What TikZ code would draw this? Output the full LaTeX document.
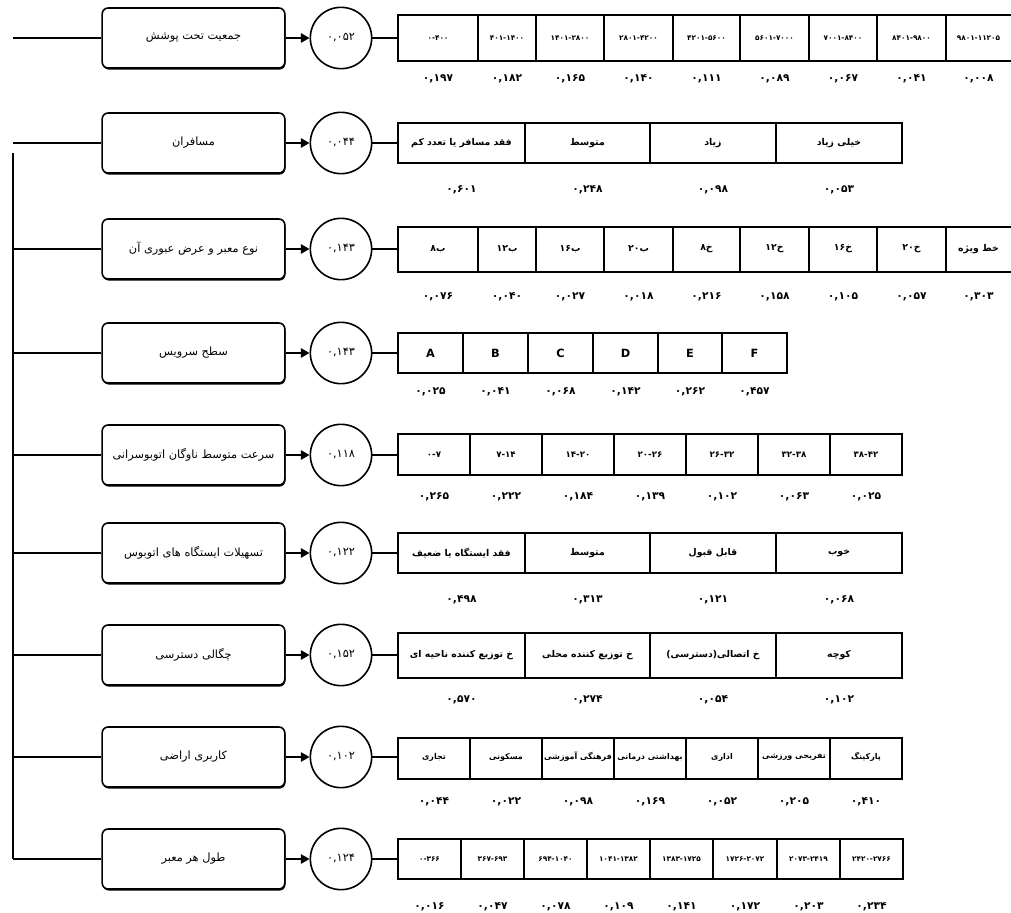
\documentclass[tikz,border=0pt]{standalone}
\usepackage{fontspec}
\setmainfont{DejaVu Sans}
\newfontfamily\fa[Script=Arabic]{DejaVu Sans}
\TeXXeTstate=1
\usetikzlibrary{arrows.meta, shadows}

\tikzset{
  critbox/.style={draw, line width=1.2pt, rounded corners=4.5pt, fill=white,
    minimum width=137pt, minimum height=45pt,
    drop shadow={shadow xshift=.5pt, shadow yshift=-1.2pt, fill=black, opacity=1},
    font=\fa\fontsize{8.5}{10}\selectfont,
    execute at begin node=\beginR, execute at end node=\endR},
  wcircle/.style={draw, circle, line width=1.2pt, minimum size=46pt, inner sep=0pt,
    font=\fa\fontsize{8.5}{10}\selectfont},
  link/.style={line width=1.2pt},
  feed/.style={line width=1.2pt, -{Triangle[length=6.5pt,width=7pt]}},
  cellbox/.style={draw, line width=1.2pt},
  celltxt/.style={inner sep=0pt, font=\fa\bfseries\fontsize{7}{8}\selectfont,
    execute at begin node=\beginR, execute at end node=\endR},
  valtxt/.style={inner sep=0pt, font=\fa\bfseries\fontsize{8}{9}\selectfont},
}

\begin{document}
\begin{tikzpicture}[x=0.75pt, y=-0.75pt]
  \useasboundingbox (0,0) rectangle (1011,913);

  % criteria, weights and links
  \foreach \r/\y/\lab/\w in {1/38/{جمعیت تحت پوشش}/{۰,۰۵۲}, 2/143/{مسافران}/{۰,۰۴۴},
      3/249/{نوع معبر و عرض عبوری آن}/{۰,۱۴۳}, 4/353/{سطح سرویس}/{۰,۱۴۳},
      5/455/{سرعت متوسط ناوگان اتوبوسرانی}/{۰,۱۱۸}, 6/553/{تسهیلات ایستگاه های اتوبوس}/{۰,۱۲۲},
      7/655/{چگالی دسترسی}/{۰,۱۵۲}, 8/757/{کاربری اراضی}/{۰,۱۰۲}, 9/859/{طول هر معبر}/{۰,۱۲۴}}{
    \coordinate (l\r) at (13,\y);
    \node[critbox] (b\r) at (193.5,\y) {\lab};
    \node[wcircle] (w\r) at (341,\y) {\w};
    \coordinate (t\r) at (398,\y);
    \draw[link] (l\r) -- (b\r);
    \draw[feed] (b\r) -- (w\r);
    \draw[link] (w\r) -- (t\r);
  }
  \coordinate (vtop) at (13,153);
  \draw[link] (vtop) -- (l9);

  % row 1
  \foreach \xa/\xb/\lab/\val [count=\k] in {398/478/{۰-۴۰۰}/{۰,۱۹۷}, 478/536/{۴۰۱-۱۴۰۰}/{۰,۱۸۲},
      536/604/{۱۴۰۱-۲۸۰۰}/{۰,۱۶۵}, 604/673/{۲۸۰۱-۴۲۰۰}/{۰,۱۴۰}, 673/740/{۴۲۰۱-۵۶۰۰}/{۰,۱۱۱},
      740/809/{۵۶۰۱-۷۰۰۰}/{۰,۰۸۹}, 809/877/{۷۰۰۱-۸۴۰۰}/{۰,۰۶۷}, 877/946/{۸۴۰۱-۹۸۰۰}/{۰,۰۴۱},
      946/1016/{۹۸۰۱-۱۱۲۰۵}/{۰,۰۰۸}}{
    \draw[cellbox] (\xa,15) rectangle (\xb,61);
    \node[celltxt, font=\fa\bfseries\fontsize{5.5}{7}\selectfont] (c1\k) at ({(min(\xb,1011)+\xa)/2},38) {\lab};
    \node[valtxt] (v1\k) at ({(min(\xb,1011)+\xa)/2},79) {\val};
  }

  % row 2
  \foreach \xa/\xb/\lab/\val [count=\k] in {398/525/{فقد مسافر یا تعدد کم}/{۰,۶۰۱}, 525/650/{متوسط}/{۰,۲۴۸},
      650/776/{زیاد}/{۰,۰۹۸}, 776/902/{خیلی زیاد}/{۰,۰۵۳}}{
    \draw[cellbox] (\xa,123) rectangle (\xb,163);
    \node[celltxt] (c2\k) at ({(\xa+\xb)/2},143) {\lab};
    \node[valtxt] (v2\k) at ({(\xa+\xb)/2},190) {\val};
  }

  % row 3
  \foreach \xa/\xb/\lab/\val [count=\k] in {398/478/{ب۸}/{۰,۰۷۶}, 478/536/{ب۱۲}/{۰,۰۴۰},
      536/604/{ب۱۶}/{۰,۰۲۷}, 604/673/{ب۲۰}/{۰,۰۱۸}, 673/740/{خ۸}/{۰,۲۱۶},
      740/809/{خ۱۲}/{۰,۱۵۸}, 809/877/{خ۱۶}/{۰,۱۰۵}, 877/946/{خ۲۰}/{۰,۰۵۷},
      946/1016/{خط ویژه}/{۰,۳۰۳}}{
    \draw[cellbox] (\xa,227) rectangle (\xb,272);
    \node[celltxt] (c3\k) at ({(min(\xb,1011)+\xa)/2},249) {\lab};
    \node[valtxt] (v3\k) at ({(min(\xb,1011)+\xa)/2},297) {\val};
  }

  % row 4
  \foreach \xa/\xb/\lab/\val [count=\k] in {398/463/A/{۰,۰۲۵}, 463/528/B/{۰,۰۴۱}, 528/593/C/{۰,۰۶۸},
      593/658/D/{۰,۱۴۲}, 658/722/E/{۰,۲۶۲}, 722/787/F/{۰,۴۵۷}}{
    \draw[cellbox] (\xa,333) rectangle (\xb,373);
    \node[celltxt, font=\bfseries\fontsize{8.5}{10}\selectfont] (c4\k) at ({(\xa+\xb)/2},353) {\lab};
    \node[valtxt] (v4\k) at ({(\xa+\xb)/2},392) {\val};
  }

  % row 5
  \foreach \xa/\xb/\lab/\val [count=\k] in {398/470/{۰-۷}/{۰,۲۶۵}, 470/542/{۷-۱۴}/{۰,۲۲۲},
      542/614/{۱۴-۲۰}/{۰,۱۸۴}, 614/686/{۲۰-۲۶}/{۰,۱۳۹}, 686/758/{۲۶-۳۲}/{۰,۱۰۲},
      758/830/{۳۲-۳۸}/{۰,۰۶۳}, 830/902/{۳۸-۴۲}/{۰,۰۲۵}}{
    \draw[cellbox] (\xa,434) rectangle (\xb,475);
    \node[celltxt, font=\fa\bfseries\fontsize{6.5}{8}\selectfont] (c5\k) at ({(\xa+\xb)/2},455) {\lab};
    \node[valtxt] (v5\k) at ({(\xa+\xb)/2},497) {\val};
  }

  % row 6
  \foreach \xa/\xb/\lab/\val [count=\k] in {398/525/{فقد ایستگاه یا ضعیف}/{۰,۴۹۸}, 525/650/{متوسط}/{۰,۳۱۳},
      650/776/{قابل قبول}/{۰,۱۲۱}, 776/902/{خوب}/{۰,۰۶۸}}{
    \draw[cellbox] (\xa,533) rectangle (\xb,573);
    \node[celltxt] (c6\k) at ({(\xa+\xb)/2},553) {\lab};
    \node[valtxt] (v6\k) at ({(\xa+\xb)/2},600) {\val};
  }

  % row 7
  \foreach \xa/\xb/\lab/\val [count=\k] in {398/525/{خ توزیع کننده ناحیه ای}/{۰,۵۷۰}, 525/650/{خ توزیع کننده محلی}/{۰,۲۷۴},
      650/776/{خ اتصالی(دسترسی)}/{۰,۰۵۴}, 776/902/{کوچه}/{۰,۱۰۲}}{
    \draw[cellbox] (\xa,633) rectangle (\xb,678);
    \node[celltxt] (c7\k) at ({(\xa+\xb)/2},655) {\lab};
    \node[valtxt] (v7\k) at ({(\xa+\xb)/2},700) {\val};
  }

  % row 8
  \foreach \xa/\xb/\lab/\val [count=\k] in {398/470/{تجاری}/{۰,۰۴۴}, 470/542/{مسکونی}/{۰,۰۲۲},
      542/614/{فرهنگی آموزشی}/{۰,۰۹۸}, 614/686/{بهداشتی درمانی}/{۰,۱۶۹}, 686/758/{اداری}/{۰,۰۵۲},
      758/830/{تفریحی ورزشی}/{۰,۲۰۵}, 830/902/{پارکینگ}/{۰,۴۱۰}}{
    \draw[cellbox] (\xa,738) rectangle (\xb,779);
    \node[celltxt, font=\fa\bfseries\fontsize{6}{7}\selectfont] (c8\k) at ({(\xa+\xb)/2},757) {\lab};
    \node[valtxt] (v8\k) at ({(\xa+\xb)/2},802) {\val};
  }

  % row 9
  \foreach \xa/\xb/\lab/\val [count=\k] in {398/461/{۰-۳۶۶}/{۰,۰۱۶}, 461/524/{۳۶۷-۶۹۳}/{۰,۰۴۷},
      524/587/{۶۹۴-۱۰۴۰}/{۰,۰۷۸}, 587/650/{۱۰۴۱-۱۳۸۲}/{۰,۱۰۹}, 650/713/{۱۳۸۳-۱۷۲۵}/{۰,۱۴۱},
      713/777/{۱۷۲۶-۲۰۷۲}/{۰,۱۷۲}, 777/840/{۲۰۷۳-۲۴۱۹}/{۰,۲۰۳}, 840/903/{۲۴۲۰-۲۷۶۶}/{۰,۲۳۴}}{
    \draw[cellbox] (\xa,839) rectangle (\xb,879);
    \node[celltxt, font=\fa\bfseries\fontsize{5.5}{7}\selectfont] (c9\k) at ({(\xa+\xb)/2},859) {\lab};
    \node[valtxt] (v9\k) at ({(\xa+\xb)/2},907) {\val};
  }
\end{tikzpicture}
\end{document}
